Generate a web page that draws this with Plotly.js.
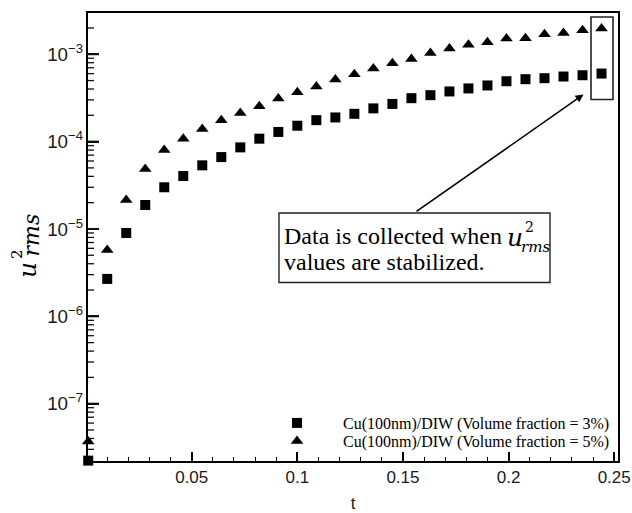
<!DOCTYPE html>
<html><head><meta charset="utf-8">
<script src="https://cdn.plot.ly/plotly-3.0.1.min.js"></script>
<style>html,body{margin:0;padding:0;background:#fff;}</style>
</head><body>
<div id="chart" style="width:632px;height:513px;"></div>
<script>
// ---- data ----
const timeValues = [0.001, 0.010, 0.019, 0.028, 0.037, 0.046, 0.055, 0.064, 0.073, 0.082,
  0.091, 0.100, 0.109, 0.118, 0.127, 0.136, 0.145, 0.154, 0.163, 0.172,
  0.181, 0.190, 0.199, 0.208, 0.217, 0.226, 0.235, 0.244];
const urms3 = [2.23e-8, 2.68e-6, 9.0e-6, 1.88e-5, 3.0e-5, 4.04e-5, 5.35e-5, 6.65e-5, 8.59e-5, 1.08e-4,
  1.29e-4, 1.52e-4, 1.76e-4, 1.89e-4, 2.08e-4, 2.40e-4, 2.70e-4, 3.14e-4, 3.40e-4, 3.75e-4,
  4.06e-4, 4.39e-4, 4.91e-4, 5.18e-4, 5.32e-4, 5.56e-4, 5.75e-4, 6.01e-4];
const urms5 = [3.68e-8, 5.75e-6, 2.14e-5, 4.85e-5, 8.0e-5, 1.08e-4, 1.39e-4, 1.75e-4, 2.13e-4, 2.54e-4,
  3.12e-4, 3.68e-4, 4.28e-4, 5.14e-4, 5.91e-4, 6.87e-4, 7.89e-4, 8.83e-4, 1.035e-3, 1.16e-3,
  1.28e-3, 1.37e-3, 1.51e-3, 1.52e-3, 1.69e-3, 1.75e-3, 1.88e-3, 1.97e-3];
const seriesNames = ["Cu(100nm)/DIW (Volume fraction = 3%)", "Cu(100nm)/DIW (Volume fraction = 5%)"];
const xTitle = "t";
const noteLines = ["Data is collected when", "values are stabilized."];

// ---- layout helpers (pixel -> paper) ----
const L = 88, R = 618, T = 13, B = 461;
const px = x => (x - L) / (R - L);
const py = y => (B - y) / (B - T);

const serif = "Liberation Serif";
const mathFont = "DejaVu Serif";
const sans = "Liberation Sans";
const yRange = [-7.656, -2.528];

// y-axis tick marks (decades long, 2..9 short), drawn as inward lines in paper coordinates
const yTickShapes = [];
for (let d = -8; d <= -2; d++) {
  for (let m = 1; m <= 9; m++) {
    const lv = Math.log10(m * Math.pow(10, d));
    if (lv <= yRange[0] || lv >= yRange[1]) continue;
    const pv = (lv - yRange[0]) / (yRange[1] - yRange[0]);
    const major = (m === 1);
    yTickShapes.push({type: 'line', xref: 'paper', yref: 'paper', x0: 0,
      x1: (major ? 11 : 6) / (R - L), y0: pv, y1: pv,
      line: {color: '#111', width: major ? 2 : 1.3}, layer: 'above'});
  }
}

const traces = [
  {x: timeValues, y: urms3, type: 'scatter', mode: 'markers', name: seriesNames[0],
   marker: {symbol: 'square', size: 10, color: '#000'}, cliponaxis: false, legend: 'legend'},
  {x: timeValues, y: urms5, type: 'scatter', mode: 'markers', name: seriesNames[1],
   marker: {symbol: 'triangle-up', size: 11, color: '#000'}, cliponaxis: false, legend: 'legend2'}
];

const legendBase = {xanchor: 'left', yanchor: 'middle', itemwidth: 82, bgcolor: 'rgba(0,0,0,0)',
  borderwidth: 0, font: {family: serif, size: 16, color: '#000'}};

const layout = {
  width: 632, height: 513,
  margin: {l: L, r: 632 - R, t: T, b: 513 - B, pad: 0},
  paper_bgcolor: '#fff', plot_bgcolor: '#fff',
  showlegend: true,
  legend: Object.assign({x: px(251), y: py(423)}, legendBase),
  legend2: Object.assign({x: px(251), y: py(441)}, legendBase),
  xaxis: {
    range: [0.0009, 0.2518], tick0: 0, dtick: 0.05,
    showline: true, linewidth: 2, linecolor: '#000', mirror: true,
    ticks: 'inside', ticklen: 9, tickwidth: 2, tickcolor: '#000',
    minor: {dtick: 0.01, tick0: 0, ticks: 'inside', ticklen: 4, tickwidth: 1, tickcolor: '#000', showgrid: false},
    showgrid: false, zeroline: false,
    tickfont: {family: sans, size: 17, color: '#1a1a1a'},
    title: {text: xTitle, font: {family: sans, size: 17, color: '#1a1a1a'}, standoff: 14}
  },
  yaxis: {
    type: 'log', range: yRange, dtick: 1, exponentformat: 'power', showexponent: 'all',
    showline: true, linewidth: 2, linecolor: '#000', mirror: true,
    ticks: 'inside', ticklen: 11, tickwidth: 2, tickcolor: '#000',
    showgrid: false, zeroline: false,
    tickfont: {family: sans, size: 15, color: '#1a1a1a'}
  },
  shapes: [
    {type: 'rect', xref: 'paper', yref: 'paper', x0: px(591), x1: px(613), y0: py(17), y1: py(99.5),
     line: {color: '#222', width: 1.6}},
    {type: 'rect', xref: 'paper', yref: 'paper', x0: px(279), x1: px(550), y0: py(213), y1: py(282.5),
     line: {color: '#222', width: 1.4}}
  ].concat(yTickShapes),
  annotations: [
    {xref: 'paper', yref: 'paper', x: px(583.5), y: py(94.5), text: '', showarrow: true,
     axref: 'pixel', ayref: 'pixel', ax: 415 - 583.5, ay: 212.5 - 94.5,
     arrowhead: 2, arrowsize: 1, arrowwidth: 1.6, arrowcolor: '#000'},
    {xref: 'paper', yref: 'paper', x: px(282), y: py(236), xanchor: 'left', yanchor: 'middle',
     text: noteLines[0], showarrow: false, font: {family: serif, size: 24, color: '#000'}},
    {xref: 'paper', yref: 'paper', x: px(282), y: py(262), xanchor: 'left', yanchor: 'middle',
     text: noteLines[1], showarrow: false, font: {family: serif, size: 24, color: '#000'}},
    {xref: 'paper', yref: 'paper', x: px(505), y: py(238), xanchor: 'left', yanchor: 'middle',
     text: '<i>u</i>', showarrow: false, font: {family: mathFont, size: 25, color: '#000'}},
    {xref: 'paper', yref: 'paper', x: px(523), y: py(227), xanchor: 'left', yanchor: 'middle',
     text: '2', showarrow: false, font: {family: mathFont, size: 14, color: '#000'}},
    {xref: 'paper', yref: 'paper', x: px(519), y: py(247), xanchor: 'left', yanchor: 'middle',
     text: '<i>rms</i>', showarrow: false, font: {family: mathFont, size: 15, color: '#000'}},
    // y-axis title  u^2_rms (stacked)
    {xref: 'paper', yref: 'paper', x: px(27), y: py(270), xanchor: 'center', yanchor: 'middle', textangle: -90,
     text: '<i>u</i>', showarrow: false, font: {family: mathFont, size: 25, color: '#000'}},
    {xref: 'paper', yref: 'paper', x: px(31), y: py(235.5), xanchor: 'center', yanchor: 'middle', textangle: -90,
     text: '<i>rms</i>', showarrow: false, font: {family: mathFont, size: 22, color: '#000'}},
    {xref: 'paper', yref: 'paper', x: px(17), y: py(254), xanchor: 'center', yanchor: 'middle', textangle: -90,
     text: '2', showarrow: false, font: {family: mathFont, size: 15, color: '#000'}}
  ]
};

Plotly.newPlot('chart', traces, layout, {displayModeBar: false, responsive: false});
</script>
</body></html>
